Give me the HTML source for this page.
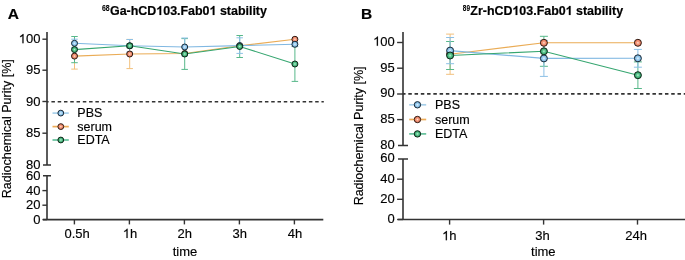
<!DOCTYPE html>
<html><head><meta charset="utf-8"><style>
html,body{margin:0;padding:0;background:#fff;width:685px;height:260px;overflow:hidden}
svg{display:block;will-change:transform}
</style></head><body>
<svg width="685" height="260" viewBox="0 0 685 260">
<defs><radialGradient id="gPBS" cx="0.5" cy="0.5" r="0.5"><stop offset="0" stop-color="#e2f2fd"/><stop offset="0.4" stop-color="#a2d0f0"/><stop offset="1" stop-color="#6aaedf"/></radialGradient><radialGradient id="gserum" cx="0.5" cy="0.5" r="0.5"><stop offset="0" stop-color="#fde2d8"/><stop offset="0.4" stop-color="#f49a7c"/><stop offset="1" stop-color="#e8765a"/></radialGradient><radialGradient id="gEDTA" cx="0.5" cy="0.5" r="0.5"><stop offset="0" stop-color="#bff0d2"/><stop offset="0.4" stop-color="#5cc690"/><stop offset="1" stop-color="#28985c"/></radialGradient></defs>
<style>
text{font-family:"Liberation Sans",sans-serif;fill:#000;stroke:#000;stroke-width:0.15px}
.ti,.pl{stroke-width:0.2px}
.tk{font-size:13px}
.lg{font-size:12.5px}
.yl{font-size:12.5px}
.pl{font-size:15.5px;font-weight:bold}
.ti{font-size:12.45px;font-weight:bold}
.sup{font-size:8.2px;stroke-width:0.1px}
.g1{fill:none;stroke:none}
.g1p{fill:#000;stroke:#000}
</style>
<path d="M47 32V165M43 165H51M43 175.8H51M47 175.8V219.6" stroke="#333" stroke-width="1.6" fill="none"/>
<path d="M42.4 39.2H47" stroke="#333" stroke-width="1.4"/>
<text x="40.4" y="43.2" text-anchor="end" class="tk"><tspan class="g1">1</tspan>00</text>
<path d="M42.4 70.2H47" stroke="#333" stroke-width="1.4"/>
<text x="40.4" y="74.2" text-anchor="end" class="tk">95</text>
<path d="M42.4 101.5H47" stroke="#333" stroke-width="1.4"/>
<text x="40.4" y="105.5" text-anchor="end" class="tk">90</text>
<path d="M42.4 133.2H47" stroke="#333" stroke-width="1.4"/>
<text x="40.4" y="137.2" text-anchor="end" class="tk">85</text>
<text x="40.4" y="169.0" text-anchor="end" class="tk">80</text>
<text x="40.4" y="179.8" text-anchor="end" class="tk">60</text>
<path d="M42.4 190.6H47" stroke="#333" stroke-width="1.4"/>
<text x="40.4" y="194.6" text-anchor="end" class="tk">40</text>
<path d="M42.4 205.2H47" stroke="#333" stroke-width="1.4"/>
<text x="40.4" y="209.2" text-anchor="end" class="tk">20</text>
<path d="M42.4 219.6H47" stroke="#333" stroke-width="1.4"/>
<text x="40.4" y="223.6" text-anchor="end" class="tk">0</text>
<path d="M43 219.6H323.3" stroke="#333" stroke-width="1.6"/>
<path d="M74.4 219.6V224.4" stroke="#333" stroke-width="1.4"/>
<text x="77.2" y="238" text-anchor="middle" class="tk">0.5h</text>
<path d="M129.4 219.6V224.4" stroke="#333" stroke-width="1.4"/>
<text x="130.0" y="238" text-anchor="middle" class="tk"><tspan class="g1">1</tspan>h</text>
<path d="M184.4 219.6V224.4" stroke="#333" stroke-width="1.4"/>
<text x="184.8" y="238" text-anchor="middle" class="tk">2h</text>
<path d="M239.4 219.6V224.4" stroke="#333" stroke-width="1.4"/>
<text x="239.8" y="238" text-anchor="middle" class="tk">3h</text>
<path d="M294.4 219.6V224.4" stroke="#333" stroke-width="1.4"/>
<text x="295.0" y="238" text-anchor="middle" class="tk">4h</text>
<text x="185" y="256" text-anchor="middle" class="tk">time</text>
<path d="M47 101.8H323.8" stroke="#333" stroke-width="1.6" stroke-dasharray="3.5 2.78" stroke-dashoffset="1.86"/>
<text transform="translate(10.8,128.7) rotate(-90)" text-anchor="middle" class="yl">Radiochemical Purity [%]</text>
<text x="7.8" y="18.9" class="pl">A</text>
<text x="110" y="14.9" class="ti"><tspan class="sup" x="101.9" y="10.6" textLength="7.7" lengthAdjust="spacingAndGlyphs">68</tspan><tspan x="110" y="14.9">Ga-hCD<tspan class="g1">1</tspan>03.Fab0<tspan class="g1">1</tspan> stability</tspan></text>
<path d="M403 32V145.5M398 145.5H408M398 159H408M403 159V219.5" stroke="#333" stroke-width="1.6" fill="none"/>
<path d="M397.1 42.5H403" stroke="#333" stroke-width="1.4"/>
<text x="394.8" y="45.8" text-anchor="end" class="tk"><tspan class="g1">1</tspan>00</text>
<path d="M397.1 68.2H403" stroke="#333" stroke-width="1.4"/>
<text x="394.8" y="71.5" text-anchor="end" class="tk">95</text>
<path d="M397.1 94H403" stroke="#333" stroke-width="1.4"/>
<text x="394.8" y="97.3" text-anchor="end" class="tk">90</text>
<path d="M397.1 119.6H403" stroke="#333" stroke-width="1.4"/>
<text x="394.8" y="122.9" text-anchor="end" class="tk">85</text>
<text x="394.8" y="148.8" text-anchor="end" class="tk">80</text>
<text x="394.8" y="162.3" text-anchor="end" class="tk">60</text>
<path d="M397.1 179.2H403" stroke="#333" stroke-width="1.4"/>
<text x="394.8" y="182.5" text-anchor="end" class="tk">40</text>
<path d="M397.1 199.3H403" stroke="#333" stroke-width="1.4"/>
<text x="394.8" y="202.6" text-anchor="end" class="tk">20</text>
<path d="M397.1 219.5H403" stroke="#333" stroke-width="1.4"/>
<text x="394.8" y="222.8" text-anchor="end" class="tk">0</text>
<path d="M398 219.5H685" stroke="#333" stroke-width="1.6"/>
<path d="M449.6 219.5V224.6" stroke="#333" stroke-width="1.4"/>
<text x="449.3" y="240.2" text-anchor="middle" class="tk"><tspan class="g1">1</tspan>h</text>
<path d="M543.6 219.5V224.6" stroke="#333" stroke-width="1.4"/>
<text x="542.6" y="240.2" text-anchor="middle" class="tk">3h</text>
<path d="M637.5 219.5V224.6" stroke="#333" stroke-width="1.4"/>
<text x="636.2" y="240.2" text-anchor="middle" class="tk">24h</text>
<text x="543.3" y="256.2" text-anchor="middle" class="tk">time</text>
<path d="M403 93.9H685" stroke="#333" stroke-width="1.6" stroke-dasharray="3.5 2.76" stroke-dashoffset="0.96"/>
<text transform="translate(363,135.9) rotate(-90)" text-anchor="middle" class="yl">Radiochemical Purity [%]</text>
<text x="361" y="19.2" class="pl">B</text>
<text class="ti"><tspan class="sup" x="462.8" y="10.5" textLength="7.2" lengthAdjust="spacingAndGlyphs">89</tspan><tspan x="470.3" y="14.9">Zr-hCD<tspan class="g1">1</tspan>03.Fab0<tspan class="g1">1</tspan> stability</tspan></text>
<path d="M52.5 113.1H68.8" stroke="#a8d0ea" stroke-width="1.7"/>
<circle cx="60.8" cy="113.1" r="2.9" fill="url(#gPBS)" stroke="#1c2a36" stroke-width="1"/>
<text x="77.3" y="117.0" class="lg">PBS</text>
<path d="M52.5 126.6H68.8" stroke="#eeac58" stroke-width="1.7"/>
<circle cx="60.8" cy="126.6" r="2.9" fill="url(#gserum)" stroke="#2e1a12" stroke-width="1"/>
<text x="77.3" y="130.5" class="lg">serum</text>
<path d="M52.5 140.0H68.8" stroke="#64c09a" stroke-width="1.7"/>
<circle cx="60.8" cy="140.0" r="2.9" fill="url(#gEDTA)" stroke="#10281a" stroke-width="1"/>
<text x="77.3" y="143.9" class="lg">EDTA</text>
<path d="M409.2 104.8H426.2" stroke="#a8d0ea" stroke-width="1.7"/>
<circle cx="417.45" cy="104.8" r="3.2" fill="url(#gPBS)" stroke="#1c2a36" stroke-width="1"/>
<text x="435.0" y="109.2" class="lg">PBS</text>
<path d="M409.2 119.5H426.2" stroke="#eeac58" stroke-width="1.7"/>
<circle cx="417.45" cy="119.5" r="3.2" fill="url(#gserum)" stroke="#2e1a12" stroke-width="1"/>
<text x="435.0" y="123.9" class="lg">serum</text>
<path d="M409.2 133.9H426.2" stroke="#64c09a" stroke-width="1.7"/>
<circle cx="417.45" cy="133.9" r="3.2" fill="url(#gEDTA)" stroke="#10281a" stroke-width="1"/>
<text x="435.0" y="138.3" class="lg">EDTA</text>
<path d="M74.50 43.10V69.10M71.25 43.10h6.5M71.25 69.10h6.5" stroke="#f2c07c" stroke-width="1" fill="none"/>
<path d="M129.70 39.40V68.60M126.45 39.40h6.5M126.45 68.60h6.5" stroke="#f2c07c" stroke-width="1" fill="none"/>
<path d="M74.50 36.50V62.70M71.25 36.50h6.5M71.25 62.70h6.5" stroke="#58b88a" stroke-width="1" fill="none"/>
<path d="M129.70 43.80V47.80M126.45 43.80h6.5M126.45 47.80h6.5" stroke="#58b88a" stroke-width="1" fill="none"/>
<path d="M184.70 38.60V69.40M181.45 38.60h6.5M181.45 69.40h6.5" stroke="#58b88a" stroke-width="1" fill="none"/>
<path d="M239.70 35.50V57.50M236.45 35.50h6.5M236.45 57.50h6.5" stroke="#58b88a" stroke-width="1" fill="none"/>
<path d="M294.90 46.60V81.40M291.65 46.60h6.5M291.65 81.40h6.5" stroke="#58b88a" stroke-width="1" fill="none"/>
<path d="M74.50 39.20V47.40M71.25 39.20h6.5M71.25 47.40h6.5" stroke="#8cc0e6" stroke-width="1" fill="none"/>
<path d="M129.70 39.50V52.10M126.45 39.50h6.5M126.45 52.10h6.5" stroke="#8cc0e6" stroke-width="1" fill="none"/>
<path d="M184.70 38.00V56.00M181.45 38.00h6.5M181.45 56.00h6.5" stroke="#8cc0e6" stroke-width="1" fill="none"/>
<path d="M239.70 37.80V53.40M236.45 37.80h6.5M236.45 53.40h6.5" stroke="#8cc0e6" stroke-width="1" fill="none"/>
<path d="M294.90 42.30V46.30M291.65 42.30h6.5M291.65 46.30h6.5" stroke="#8cc0e6" stroke-width="1" fill="none"/>
<polyline points="74.50,56.10 129.70,54.00 184.70,53.50 239.70,45.80 294.90,39.30" stroke="#eaac56" stroke-width="1.1" fill="none"/>
<polyline points="74.50,43.30 129.70,45.80 184.70,47.00 239.70,45.60 294.90,44.30" stroke="#80b8e2" stroke-width="1.1" fill="none"/>
<polyline points="74.50,49.60 129.70,45.80 184.70,54.00 239.70,46.50 294.90,64.00" stroke="#36a670" stroke-width="1.1" fill="none"/>
<circle cx="74.50" cy="56.10" r="3.0" fill="url(#gserum)" stroke="#2e1a12" stroke-width="1"/>
<circle cx="129.70" cy="54.00" r="3.0" fill="url(#gserum)" stroke="#2e1a12" stroke-width="1"/>
<circle cx="184.70" cy="53.50" r="3.0" fill="url(#gserum)" stroke="#2e1a12" stroke-width="1"/>
<circle cx="239.70" cy="45.80" r="3.0" fill="url(#gserum)" stroke="#2e1a12" stroke-width="1"/>
<circle cx="294.90" cy="39.30" r="3.0" fill="url(#gserum)" stroke="#2e1a12" stroke-width="1"/>
<circle cx="74.50" cy="43.30" r="3.0" fill="url(#gPBS)" stroke="#1c2a36" stroke-width="1"/>
<circle cx="129.70" cy="45.80" r="3.0" fill="url(#gPBS)" stroke="#1c2a36" stroke-width="1"/>
<circle cx="184.70" cy="47.00" r="3.0" fill="url(#gPBS)" stroke="#1c2a36" stroke-width="1"/>
<circle cx="239.70" cy="45.60" r="3.0" fill="url(#gPBS)" stroke="#1c2a36" stroke-width="1"/>
<circle cx="294.90" cy="44.30" r="3.0" fill="url(#gPBS)" stroke="#1c2a36" stroke-width="1"/>
<circle cx="74.50" cy="49.60" r="3.0" fill="url(#gEDTA)" stroke="#10281a" stroke-width="1"/>
<circle cx="129.70" cy="45.80" r="3.0" fill="url(#gEDTA)" stroke="#10281a" stroke-width="1"/>
<circle cx="184.70" cy="54.00" r="3.0" fill="url(#gEDTA)" stroke="#10281a" stroke-width="1"/>
<circle cx="239.70" cy="46.50" r="3.0" fill="url(#gEDTA)" stroke="#10281a" stroke-width="1"/>
<circle cx="294.90" cy="64.00" r="3.0" fill="url(#gEDTA)" stroke="#10281a" stroke-width="1"/>
<path d="M450.10 34.10V74.30M446.10 34.10h8M446.10 74.30h8" stroke="#f2c07c" stroke-width="1" fill="none"/>
<path d="M450.10 41.50V69.50M446.10 41.50h8M446.10 69.50h8" stroke="#58b88a" stroke-width="1" fill="none"/>
<path d="M543.90 36.30V66.30M539.90 36.30h8M539.90 66.30h8" stroke="#58b88a" stroke-width="1" fill="none"/>
<path d="M637.90 61.90V88.50M633.90 61.90h8M633.90 88.50h8" stroke="#58b88a" stroke-width="1" fill="none"/>
<path d="M450.10 37.50V63.70M446.10 37.50h8M446.10 63.70h8" stroke="#8cc0e6" stroke-width="1" fill="none"/>
<path d="M543.90 40.40V76.40M539.90 40.40h8M539.90 76.40h8" stroke="#8cc0e6" stroke-width="1" fill="none"/>
<path d="M637.90 49.40V67.20M633.90 49.40h8M633.90 67.20h8" stroke="#8cc0e6" stroke-width="1" fill="none"/>
<polyline points="450.10,54.20 543.90,42.80 637.90,42.80" stroke="#eaac56" stroke-width="1.1" fill="none"/>
<polyline points="450.10,50.60 543.90,58.40 637.90,58.30" stroke="#80b8e2" stroke-width="1.1" fill="none"/>
<polyline points="450.10,55.50 543.90,51.30 637.90,75.20" stroke="#36a670" stroke-width="1.1" fill="none"/>
<circle cx="450.10" cy="54.20" r="3.5" fill="url(#gserum)" stroke="#2e1a12" stroke-width="1"/>
<circle cx="543.90" cy="42.80" r="3.5" fill="url(#gserum)" stroke="#2e1a12" stroke-width="1"/>
<circle cx="637.90" cy="42.80" r="3.5" fill="url(#gserum)" stroke="#2e1a12" stroke-width="1"/>
<circle cx="450.10" cy="50.60" r="3.5" fill="url(#gPBS)" stroke="#1c2a36" stroke-width="1"/>
<circle cx="543.90" cy="58.40" r="3.5" fill="url(#gPBS)" stroke="#1c2a36" stroke-width="1"/>
<circle cx="637.90" cy="58.30" r="3.5" fill="url(#gPBS)" stroke="#1c2a36" stroke-width="1"/>
<circle cx="450.10" cy="55.50" r="3.5" fill="url(#gEDTA)" stroke="#10281a" stroke-width="1"/>
<circle cx="543.90" cy="51.30" r="3.5" fill="url(#gEDTA)" stroke="#10281a" stroke-width="1"/>
<circle cx="637.90" cy="75.20" r="3.5" fill="url(#gEDTA)" stroke="#10281a" stroke-width="1"/>
<path class="g1p" d="M763 0L583 0L583 1147C540 1106 483 1064 413 1023C343 982 280 951 223 930L223 1104C323 1151 411 1208 486 1275C561 1342 614 1407 645 1466L763 1466Z" transform="translate(18.697,43.200) scale(0.006348,-0.006348)" stroke-width="23.63"/>
<path class="g1p" d="M763 0L583 0L583 1147C540 1106 483 1064 413 1023C343 982 280 951 223 930L223 1104C323 1151 411 1208 486 1275C561 1342 614 1407 645 1466L763 1466Z" transform="translate(122.766,238.000) scale(0.006348,-0.006348)" stroke-width="23.63"/>
<path class="g1p" d="M806 0L525 0L525 1059C422 963 301 892 162 846L162 1101C235 1125 315 1170 401 1237C487 1305 546 1383 578 1472L806 1472Z" transform="translate(156.297,14.900) scale(0.006079,-0.006079)" stroke-width="32.90"/>
<path class="g1p" d="M806 0L525 0L525 1059C422 963 301 892 162 846L162 1101C235 1125 315 1170 401 1237C487 1305 546 1383 578 1472L806 1472Z" transform="translate(209.547,14.900) scale(0.006079,-0.006079)" stroke-width="32.90"/>
<path class="g1p" d="M763 0L583 0L583 1147C540 1106 483 1064 413 1023C343 982 280 951 223 930L223 1104C323 1151 411 1208 486 1275C561 1342 614 1407 645 1466L763 1466Z" transform="translate(373.097,45.800) scale(0.006348,-0.006348)" stroke-width="23.63"/>
<path class="g1p" d="M763 0L583 0L583 1147C540 1106 483 1064 413 1023C343 982 280 951 223 930L223 1104C323 1151 411 1208 486 1275C561 1342 614 1407 645 1466L763 1466Z" transform="translate(442.066,240.200) scale(0.006348,-0.006348)" stroke-width="23.63"/>
<path class="g1p" d="M806 0L525 0L525 1059C422 963 301 892 162 846L162 1101C235 1125 315 1170 401 1237C487 1305 546 1383 578 1472L806 1472Z" transform="translate(512.441,14.900) scale(0.006079,-0.006079)" stroke-width="32.90"/>
<path class="g1p" d="M806 0L525 0L525 1059C422 963 301 892 162 846L162 1101C235 1125 315 1170 401 1237C487 1305 546 1383 578 1472L806 1472Z" transform="translate(565.691,14.900) scale(0.006079,-0.006079)" stroke-width="32.90"/>
</svg>
</body></html>
